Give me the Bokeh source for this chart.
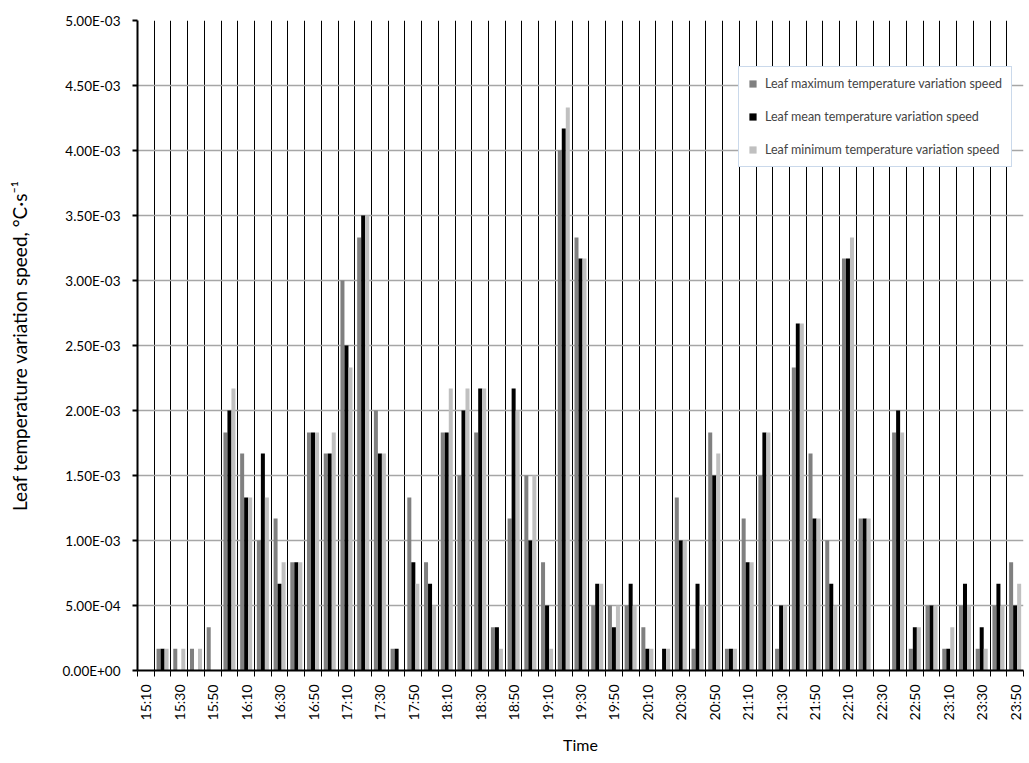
from bokeh.plotting import figure
from bokeh.models import Range1d, FixedTicker, ColumnDataSource, Legend, LegendItem
from bokeh.embed import file_html
from bokeh.resources import INLINE
import math

times = ["15:10", "15:20", "15:30", "15:40", "15:50", "16:00", "16:10", "16:20", "16:30", "16:40",
         "16:50", "17:00", "17:10", "17:20", "17:30", "17:40", "17:50", "18:00", "18:10", "18:20",
         "18:30", "18:40", "18:50", "19:00", "19:10", "19:20", "19:30", "19:40", "19:50", "20:00",
         "20:10", "20:20", "20:30", "20:40", "20:50", "21:00", "21:10", "21:20", "21:30", "21:40",
         "21:50", "22:00", "22:10", "22:20", "22:30", "22:40", "22:50", "23:00", "23:10", "23:20",
         "23:30", "23:40", "23:50"]

max_speed = [0, 1.67e-4, 1.67e-4, 1.67e-4, 3.33e-4, 1.83e-3, 1.67e-3, 1.00e-3, 1.17e-3, 8.33e-4,
             1.83e-3, 1.67e-3, 3.00e-3, 3.33e-3, 2.00e-3, 1.67e-4, 1.33e-3, 8.33e-4, 1.83e-3, 1.50e-3,
             1.83e-3, 3.33e-4, 1.17e-3, 1.50e-3, 8.33e-4, 4.00e-3, 3.33e-3, 5.00e-4, 5.00e-4, 5.00e-4,
             3.33e-4, 0, 1.33e-3, 1.67e-4, 1.83e-3, 1.67e-4, 1.17e-3, 1.50e-3, 1.67e-4, 2.33e-3,
             1.67e-3, 1.00e-3, 3.17e-3, 1.17e-3, 0, 1.83e-3, 1.67e-4, 5.00e-4, 1.67e-4, 5.00e-4,
             1.67e-4, 5.00e-4, 8.33e-4]

mean_speed = [0, 1.67e-4, 0, 0, 0, 2.00e-3, 1.33e-3, 1.67e-3, 6.67e-4, 8.33e-4,
              1.83e-3, 1.67e-3, 2.50e-3, 3.50e-3, 1.67e-3, 1.67e-4, 8.33e-4, 6.67e-4, 1.83e-3, 2.00e-3,
              2.17e-3, 3.33e-4, 2.17e-3, 1.00e-3, 5.00e-4, 4.17e-3, 3.17e-3, 6.67e-4, 3.33e-4, 6.67e-4,
              1.67e-4, 1.67e-4, 1.00e-3, 6.67e-4, 1.50e-3, 1.67e-4, 8.33e-4, 1.83e-3, 5.00e-4, 2.67e-3,
              1.17e-3, 6.67e-4, 3.17e-3, 1.17e-3, 0, 2.00e-3, 3.33e-4, 5.00e-4, 1.67e-4, 6.67e-4,
              3.33e-4, 6.67e-4, 5.00e-4]

min_speed = [0, 1.67e-4, 1.67e-4, 1.67e-4, 0, 2.17e-3, 1.33e-3, 1.33e-3, 8.33e-4, 8.33e-4,
             1.83e-3, 1.83e-3, 2.33e-3, 3.50e-3, 1.67e-3, 0, 6.67e-4, 5.00e-4, 2.17e-3, 2.17e-3,
             2.17e-3, 1.67e-4, 2.00e-3, 1.50e-3, 1.67e-4, 4.33e-3, 3.17e-3, 6.67e-4, 5.00e-4, 5.00e-4,
             1.67e-4, 1.67e-4, 1.00e-3, 5.00e-4, 1.67e-3, 1.67e-4, 8.33e-4, 1.83e-3, 5.00e-4, 2.67e-3,
             1.17e-3, 5.00e-4, 3.33e-3, 1.17e-3, 0, 1.83e-3, 3.33e-4, 5.00e-4, 3.33e-4, 5.00e-4,
             1.67e-4, 5.00e-4, 6.67e-4]

series_names = ["Leaf maximum temperature variation speed",
                "Leaf mean temperature variation speed",
                "Leaf minimum temperature variation speed"]
y_ticks = [0, 5e-4, 1e-3, 1.5e-3, 2e-3, 2.5e-3, 3e-3, 3.5e-3, 4e-3, 4.5e-3, 5e-3]

FONT = "Lato"
n = len(times)
idx = list(range(n))

p = figure(width=1027, height=761, output_backend="svg", toolbar_location=None,
           x_range=Range1d(-0.5, n - 0.5), y_range=Range1d(0, 5e-3),
           min_border_left=137, min_border_right=4, min_border_top=20, min_border_bottom=91)
p.outline_line_color = None
p.background_fill_color = "white"

colors = ["#808080", "#000000", "#c0c0c0"]
offsets = [-0.24, 0.0, 0.24]
items = []
for vals, col, off, name in zip([max_speed, mean_speed, min_speed], colors, offsets, series_names):
    src = ColumnDataSource(dict(x=[i + off for i in idx], top=vals))
    r = p.vbar(x="x", top="top", width=0.24, source=src, fill_color=col, line_color=None)
    items.append(LegendItem(label=name, renderers=[r]))

# x axis
boundaries = [i - 0.5 for i in range(n + 1)]
xt = FixedTicker(ticks=idx[::2], minor_ticks=boundaries)
p.xaxis.ticker = xt
p.xaxis.major_label_overrides = {i: times[i] for i in idx}
p.xaxis.major_label_orientation = math.pi / 2
p.xaxis.major_tick_line_color = None
p.xaxis.major_tick_out = 6
p.xaxis.major_tick_in = 0
p.xaxis.minor_tick_line_color = "black"
p.xaxis.minor_tick_out = 6
p.xaxis.minor_tick_in = 0
p.xaxis.minor_tick_line_width = 1
p.xaxis.axis_line_color = "black"
p.xaxis.axis_line_width = 2
p.xaxis.major_label_text_font = FONT
p.xaxis.major_label_text_font_size = "14px"
p.xaxis.major_label_text_color = "black"
p.xaxis.major_label_standoff = 8
p.xaxis.axis_label = "Time"
p.xaxis.axis_label_text_font = FONT
p.xaxis.axis_label_text_font_size = "16px"
p.xaxis.axis_label_text_font_style = "normal"
p.xaxis.axis_label_text_color = "black"
p.xaxis.axis_label_standoff = 12

# y axis
p.yaxis.ticker = FixedTicker(ticks=y_ticks)
p.yaxis.major_label_overrides = {v: f"{v:.2E}" for v in y_ticks}
p.yaxis.major_tick_out = 5
p.yaxis.major_tick_in = 0
p.yaxis.major_tick_line_width = 2
p.yaxis.minor_tick_line_color = None
p.yaxis.axis_line_color = "black"
p.yaxis.axis_line_width = 2
p.yaxis.major_label_text_font = FONT
p.yaxis.major_label_text_font_size = "13.5px"
p.yaxis.major_label_text_color = "black"
p.yaxis.major_label_standoff = 12
p.yaxis.axis_label = "Leaf temperature variation speed, \u00b0C\u00b7s\u207b\u00b9"
p.yaxis.axis_label_text_font = FONT
p.yaxis.axis_label_text_font_size = "19px"
p.yaxis.axis_label_text_font_style = "normal"
p.yaxis.axis_label_text_color = "black"
p.yaxis.axis_label_standoff = 29

# grids
p.xgrid.ticker = FixedTicker(ticks=boundaries)
p.xgrid.grid_line_color = "black"
p.xgrid.grid_line_width = 1
p.ygrid.ticker = FixedTicker(ticks=y_ticks)
p.ygrid.grid_line_color = "#a6a6a6"
p.ygrid.grid_line_width = 1.5

legend = Legend(items=items, location=(601, 503))
legend.border_line_color = "#95b3d7"
legend.border_line_width = 1
legend.background_fill_color = "white"
legend.background_fill_alpha = 1
legend.label_text_font = FONT
legend.label_text_font_size = "12.5px"
legend.glyph_width = 9
legend.glyph_height = 9
legend.label_height = 14
legend.label_width = 233
legend.spacing = 18
legend.padding = 9
legend.label_standoff = 8
legend.margin = 0
p.add_layout(legend)

open("out.html", "w").write(file_html(p, INLINE))
